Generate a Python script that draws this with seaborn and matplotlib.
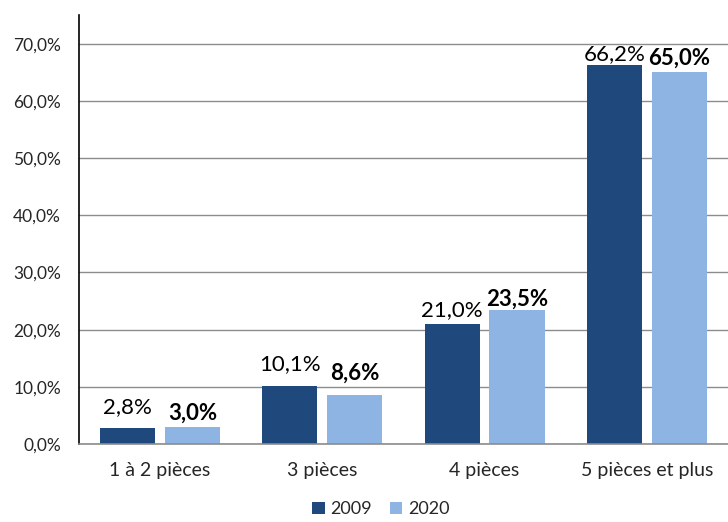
import matplotlib
matplotlib.use("Agg")
import matplotlib.pyplot as plt
import seaborn as sns
import pandas as pd
from matplotlib.patches import Patch

categories = ["1 à 2 pièces", "3 pièces", "4 pièces", "5 pièces et plus"]
years = ["2009", "2020"]
values_2009 = [2.8, 10.1, 21.0, 66.2]
values_2020 = [3.0, 8.6, 23.5, 65.0]
yticks = [0, 10, 20, 30, 40, 50, 60, 70]
colors = ["#1F497D", "#8EB4E3"]
# label offsets (points) above bars, per series
label_pad_2009 = [8, 9, 3, 1]
label_pad_2020 = [2.5, 8, 0, 2.5]

df = pd.DataFrame({
    "cat": categories * 2,
    "year": [years[0]] * 4 + [years[1]] * 4,
    "val": values_2009 + values_2020,
})

sns.set_theme(style="white")
plt.rcParams["font.family"] = ["Lato", "DejaVu Sans"]

fig = plt.figure(figsize=(7.28, 5.22), dpi=100)
ax = fig.add_axes([0.1085, 0.1494, 0.8915, 0.8216])

sns.barplot(data=df, x="cat", y="val", hue="year", order=categories,
            hue_order=years, palette=colors, width=0.8, gap=0.15,
            saturation=1, ax=ax, legend=False, linewidth=0)

ax.set_ylim(0, 75)
ax.set_xlim(-0.5, 3.5)
ax.set_yticks(yticks)
ax.set_yticklabels([f"{v:.1f}%".replace(".", ",") for v in yticks], fontsize=12.5)
ax.tick_params(axis="y", length=0, pad=13)
ax.tick_params(axis="x", length=0, pad=13, labelsize=14)
ax.set_xlabel("")
ax.set_ylabel("")
ax.yaxis.grid(True, color="#8C8C8C", linewidth=1)
ax.set_axisbelow(True)
for s in ["top", "right"]:
    ax.spines[s].set_visible(False)
ax.spines["left"].set_color("black")
ax.spines["left"].set_linewidth(1.2)
ax.spines["bottom"].set_color("#8C8C8C")
ax.spines["bottom"].set_linewidth(1.2)

pads = [label_pad_2009, label_pad_2020]
for i, cont in enumerate(ax.containers):
    for j, (bar, v) in enumerate(zip(cont.patches, cont.datavalues)):
        ax.annotate(f"{v:.1f}%".replace(".", ","),
                    xy=(bar.get_x() + bar.get_width() / 2, bar.get_height()),
                    xytext=(0, pads[i][j]), textcoords="offset points",
                    ha="center", va="bottom", fontsize=16,
                    fontweight="bold" if i == 1 else "normal", color="black")

handles = [Patch(facecolor=c, edgecolor="none") for c in colors]
fig.legend(handles, years, loc="lower center", bbox_to_anchor=(0.523, -0.022),
           ncol=2, frameon=False, fontsize=13, handlelength=0.7,
           handleheight=0.7, handletextpad=0.3, columnspacing=1.0)

fig.savefig("out.png", dpi=100)
